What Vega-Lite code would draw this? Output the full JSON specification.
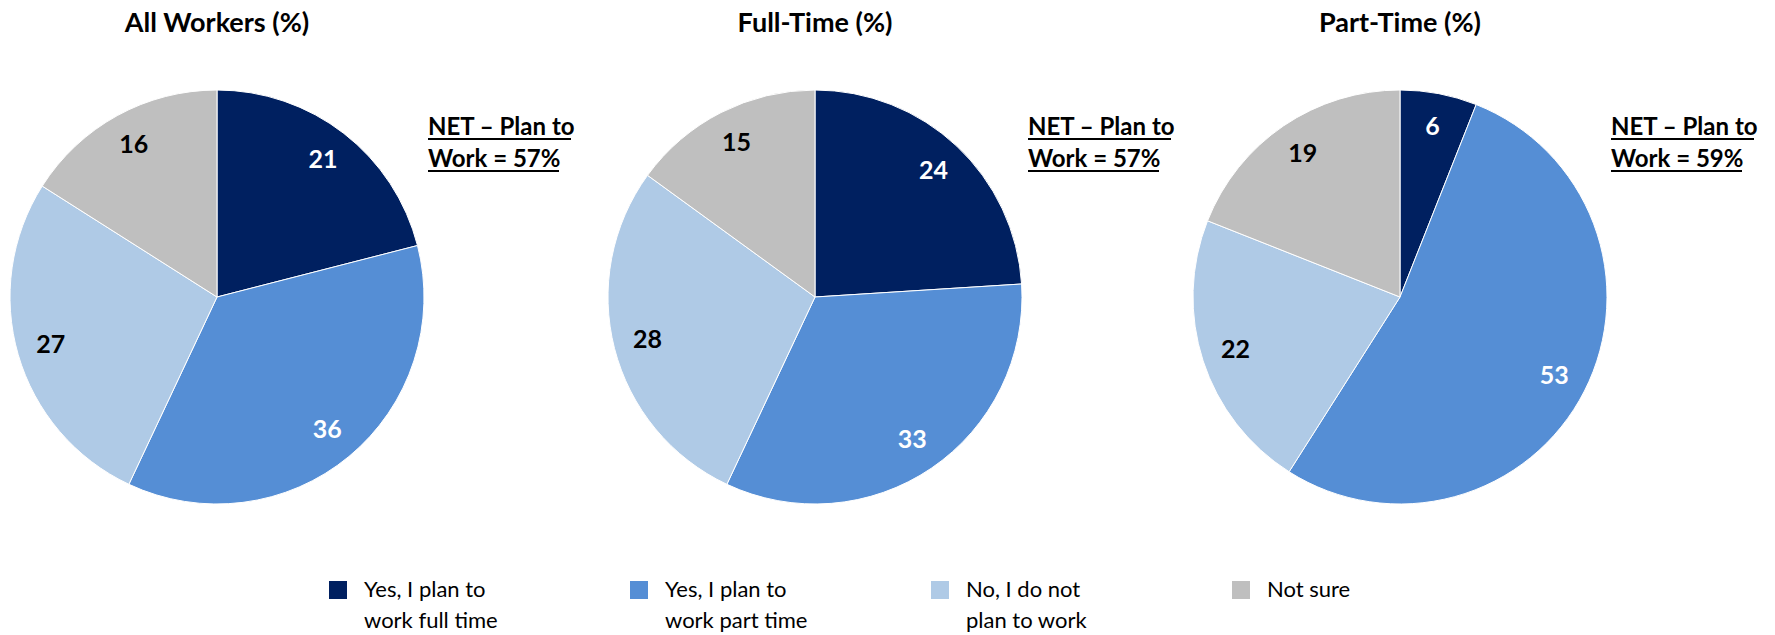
{
  "$schema": "https://vega.github.io/schema/vega-lite/v6.json",
  "padding": {"left": 0, "top": 10, "right": 0, "bottom": 0},
  "background": "white",
  "spacing": 0,
  "bounds": "flush",
  "datasets": {
    "slices": [
      {"group": "All Workers", "k": 1, "cat": "Yes, I plan to work full time", "value": 21},
      {"group": "All Workers", "k": 2, "cat": "Yes, I plan to work part time", "value": 36},
      {"group": "All Workers", "k": 3, "cat": "No, I do not plan to work", "value": 27},
      {"group": "All Workers", "k": 4, "cat": "Not sure", "value": 16},
      {"group": "Full-Time", "k": 1, "cat": "Yes, I plan to work full time", "value": 24},
      {"group": "Full-Time", "k": 2, "cat": "Yes, I plan to work part time", "value": 33},
      {"group": "Full-Time", "k": 3, "cat": "No, I do not plan to work", "value": 28},
      {"group": "Full-Time", "k": 4, "cat": "Not sure", "value": 15},
      {"group": "Part-Time", "k": 1, "cat": "Yes, I plan to work full time", "value": 6},
      {"group": "Part-Time", "k": 2, "cat": "Yes, I plan to work part time", "value": 53},
      {"group": "Part-Time", "k": 3, "cat": "No, I do not plan to work", "value": 22},
      {"group": "Part-Time", "k": 4, "cat": "Not sure", "value": 19}
    ],
    "net": [
      {"group": "All Workers", "net": "NET – Plan to\nWork = 57%"},
      {"group": "Full-Time", "net": "NET – Plan to\nWork = 57%"},
      {"group": "Part-Time", "net": "NET – Plan to\nWork = 59%"}
    ]
  },
  "config": {
    "view": {"stroke": null},
    "font": "Lato",
    "title": {"font": "Lato", "fontSize": 27, "fontWeight": "bold", "color": "#000000", "anchor": "middle", "baseline": "alphabetic", "offset": 49},
    "text": {"font": "Lato", "fontWeight": "bold", "color": "#000000"},
    "rule": {"color": "#000000", "strokeWidth": 2},
    "style": {"guide-label": {"lineHeight": 31}},
    "legend": {
      "orient": "none", "legendX": 327, "legendY": 492, "direction": "horizontal", "columns": 4,
      "gridAlign": "all", "columnPadding": 121, "padding": 0,
      "symbolType": "square", "symbolSize": 324, "symbolStrokeWidth": 0, "symbolOpacity": 1,
      "labelFont": "Lato", "labelFontSize": 22, "labelColor": "#000000", "labelLimit": 400,
      "labelOffset": 15, "labelBaseline": "middle"
    }
  },
  "hconcat": [
    {
      "width": 434, "height": 420,
      "title": "All Workers (%)",
      "layer": [
        {
          "data": {"name": "slices"},
          "transform": [{"filter": "datum.group === 'All Workers'"}],
          "mark": {"type": "arc", "outerRadius": 207, "stroke": "white", "strokeWidth": 1},
          "encoding": {
            "theta": {"field": "value", "type": "quantitative", "stack": true},
            "order": {"field": "k", "type": "quantitative"},
            "color": {"field": "cat", "type": "nominal",
              "scale": {"domain": ["Yes, I plan to work full time", "Yes, I plan to work part time", "No, I do not plan to work", "Not sure"], "range": ["#002060", "#558ED5", "#AFCAE6", "#BFBFBF"]},
              "legend": {"title": null, "labelExpr": "datum.label == 'Yes, I plan to work full time' ? ['Yes, I plan to', 'work full time'] : datum.label == 'Yes, I plan to work part time' ? ['Yes, I plan to', 'work part time'] : datum.label == 'No, I do not plan to work' ? ['No, I do not', 'plan to work'] : [datum.label, ' ']"}}
          }
        },
        {
          "data": {"name": "slices"},
          "transform": [{"filter": "datum.group === 'All Workers'"}],
          "mark": {"type": "text", "radius": 173, "fontSize": 25},
          "encoding": {
            "theta": {"field": "value", "type": "quantitative", "stack": true},
            "order": {"field": "k", "type": "quantitative"},
            "text": {"field": "value", "type": "quantitative"},
            "color": {"condition": {"test": "datum.k <= 2", "value": "#FFFFFF"}, "value": "#000000"}
          }
        },
        {
          "data": {"name": "net"},
          "transform": [{"filter": "datum.group === 'All Workers'"}],
          "mark": {"type": "text", "x": 428, "y": 48, "align": "left", "baseline": "alphabetic", "fontSize": 24, "lineBreak": "\n", "lineHeight": 32},
          "encoding": {"text": {"field": "net"}}
        },
        {
          "data": {"name": "net"},
          "transform": [{"filter": "datum.group === 'All Workers'"}],
          "mark": {"type": "rule"},
          "encoding": {"x": {"value": 428}, "x2": {"value": 571}, "y": {"value": 52}}
        },
        {
          "data": {"name": "net"},
          "transform": [{"filter": "datum.group === 'All Workers'"}],
          "mark": {"type": "rule"},
          "encoding": {"x": {"value": 428}, "x2": {"value": 559}, "y": {"value": 84}}
        }
      ]
    },
    {
      "width": 762, "height": 420,
      "title": "Full-Time (%)",
      "layer": [
        {
          "data": {"name": "slices"},
          "transform": [{"filter": "datum.group === 'Full-Time'"}],
          "mark": {"type": "arc", "outerRadius": 207, "stroke": "white", "strokeWidth": 1},
          "encoding": {
            "theta": {"field": "value", "type": "quantitative", "stack": true},
            "order": {"field": "k", "type": "quantitative"},
            "color": {"field": "cat", "type": "nominal"}
          }
        },
        {
          "data": {"name": "slices"},
          "transform": [{"filter": "datum.group === 'Full-Time'"}],
          "mark": {"type": "text", "radius": 173, "fontSize": 25},
          "encoding": {
            "theta": {"field": "value", "type": "quantitative", "stack": true},
            "order": {"field": "k", "type": "quantitative"},
            "text": {"field": "value", "type": "quantitative"},
            "color": {"condition": {"test": "datum.k <= 2", "value": "#FFFFFF"}, "value": "#000000"}
          }
        },
        {
          "data": {"name": "net"},
          "transform": [{"filter": "datum.group === 'Full-Time'"}],
          "mark": {"type": "text", "x": 594, "y": 48, "align": "left", "baseline": "alphabetic", "fontSize": 24, "lineBreak": "\n", "lineHeight": 32},
          "encoding": {"text": {"field": "net"}}
        },
        {
          "data": {"name": "net"},
          "transform": [{"filter": "datum.group === 'Full-Time'"}],
          "mark": {"type": "rule"},
          "encoding": {"x": {"value": 594}, "x2": {"value": 737}, "y": {"value": 52}}
        },
        {
          "data": {"name": "net"},
          "transform": [{"filter": "datum.group === 'Full-Time'"}],
          "mark": {"type": "rule"},
          "encoding": {"x": {"value": 594}, "x2": {"value": 725}, "y": {"value": 84}}
        }
      ]
    },
    {
      "width": 408, "height": 420,
      "title": "Part-Time (%)",
      "layer": [
        {
          "data": {"name": "slices"},
          "transform": [{"filter": "datum.group === 'Part-Time'"}],
          "mark": {"type": "arc", "outerRadius": 207, "stroke": "white", "strokeWidth": 1},
          "encoding": {
            "theta": {"field": "value", "type": "quantitative", "stack": true},
            "order": {"field": "k", "type": "quantitative"},
            "color": {"field": "cat", "type": "nominal"}
          }
        },
        {
          "data": {"name": "slices"},
          "transform": [{"filter": "datum.group === 'Part-Time'"}],
          "mark": {"type": "text", "radius": 173, "fontSize": 25},
          "encoding": {
            "theta": {"field": "value", "type": "quantitative", "stack": true},
            "order": {"field": "k", "type": "quantitative"},
            "text": {"field": "value", "type": "quantitative"},
            "color": {"condition": {"test": "datum.k <= 2", "value": "#FFFFFF"}, "value": "#000000"}
          }
        },
        {
          "data": {"name": "net"},
          "transform": [{"filter": "datum.group === 'Part-Time'"}],
          "mark": {"type": "text", "x": 415, "y": 48, "align": "left", "baseline": "alphabetic", "fontSize": 24, "lineBreak": "\n", "lineHeight": 32},
          "encoding": {"text": {"field": "net"}}
        },
        {
          "data": {"name": "net"},
          "transform": [{"filter": "datum.group === 'Part-Time'"}],
          "mark": {"type": "rule"},
          "encoding": {"x": {"value": 415}, "x2": {"value": 558}, "y": {"value": 52}}
        },
        {
          "data": {"name": "net"},
          "transform": [{"filter": "datum.group === 'Part-Time'"}],
          "mark": {"type": "rule"},
          "encoding": {"x": {"value": 415}, "x2": {"value": 546}, "y": {"value": 84}}
        }
      ]
    }
  ]
}
